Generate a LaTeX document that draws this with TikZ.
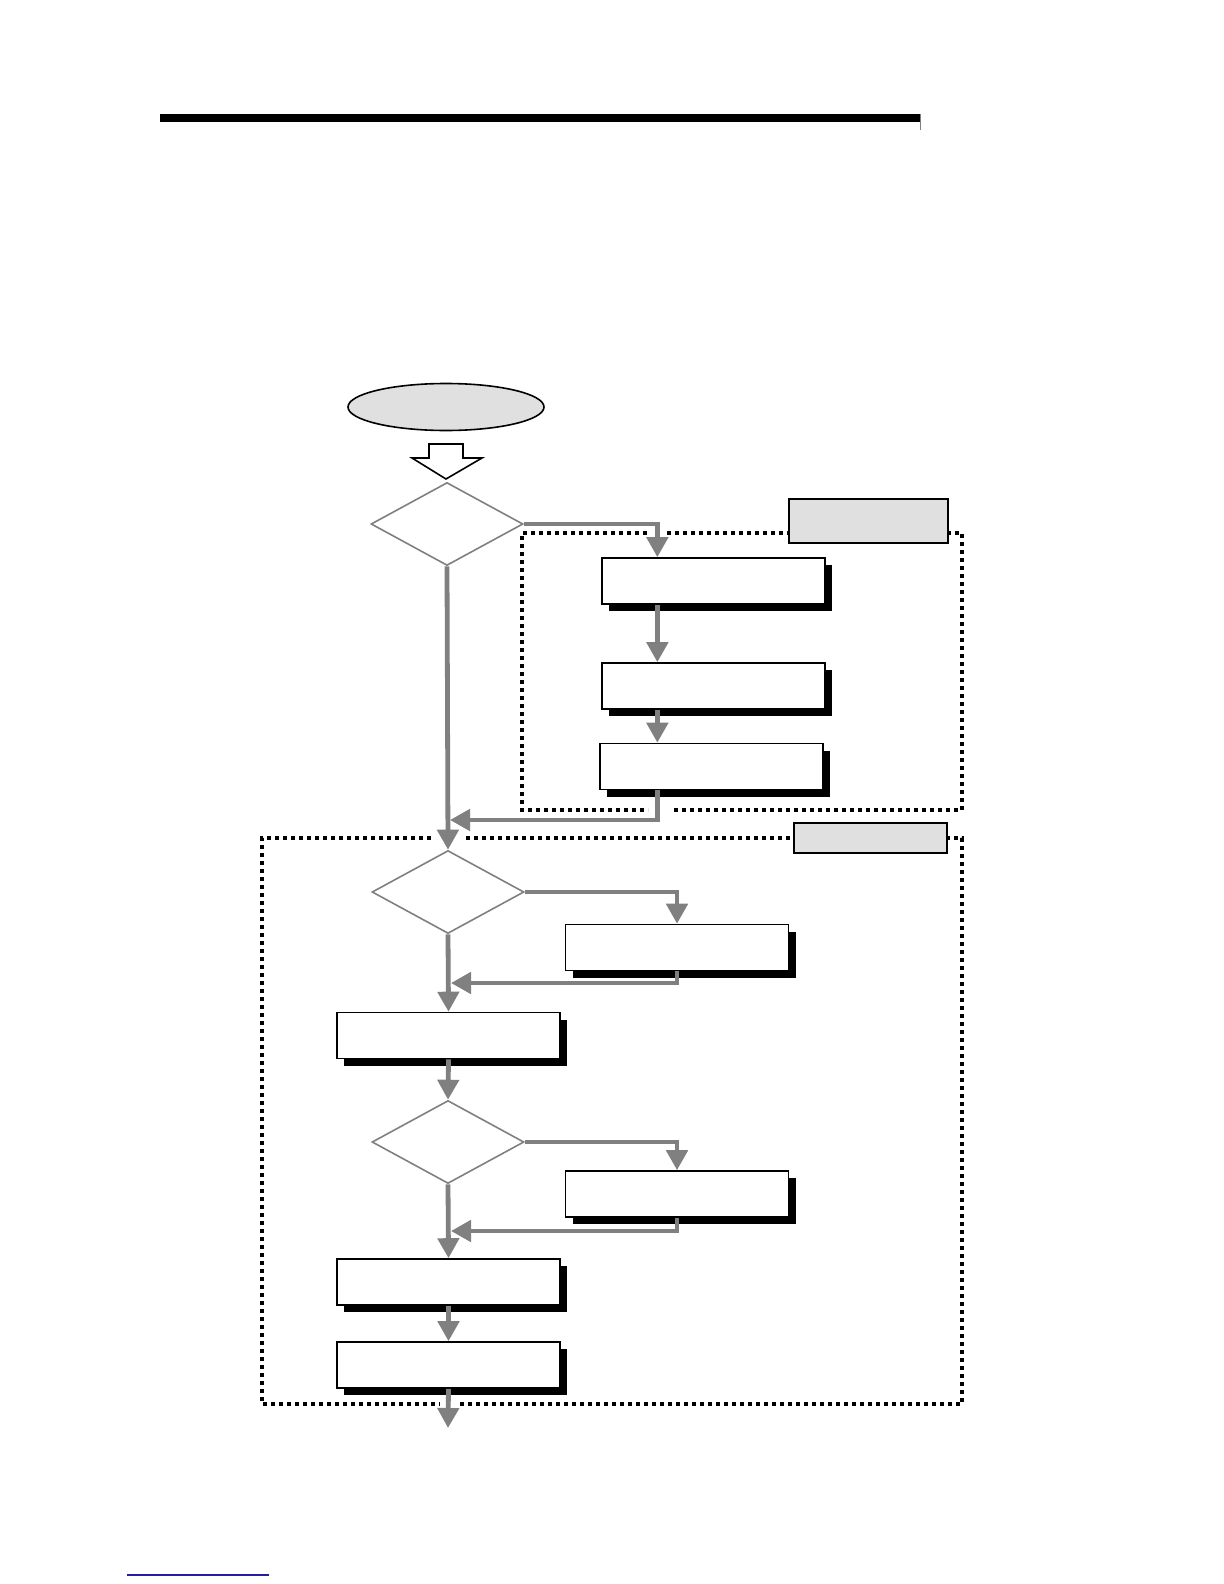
\documentclass[tikz,border=0pt]{standalone}
\usetikzlibrary{arrows.meta,positioning,calc,shapes.geometric,shadows}
\definecolor{flowgray}{HTML}{808080}
\definecolor{tagfill}{HTML}{E0E0E0}
\definecolor{rulebl}{HTML}{2020A0}

\begin{document}
\begin{tikzpicture}[x=0.5pt, y=-0.5pt,
  proc/.style={draw, line width=0.8pt, rectangle, minimum width=111.5pt,
    minimum height=23pt, inner sep=0pt, fill=white,
    drop shadow={shadow xshift=3.5pt, shadow yshift=-3.5pt, fill=black, opacity=1}},
  dec/.style={draw=flowgray, line width=0.8pt, diamond, minimum width=76pt,
    minimum height=41.5pt, inner sep=0pt, fill=white},
  start/.style={draw, line width=0.8pt, ellipse, minimum width=98pt,
    minimum height=23.5pt, inner sep=0pt, fill=tagfill},
  tag/.style={draw, line width=1pt, rectangle, inner sep=0pt, fill=tagfill},
  flow/.style={draw=flowgray, line width=2.4pt, -{Triangle[length=10pt,width=10.5pt]}},
  grp/.style={line width=2pt, dash pattern=on 2pt off 2pt},
]
\useasboundingbox[fill=white] (0,0) rectangle (1224,1584);
% page rules
\fill (160,114) rectangle (920,122);
\draw[flowgray, line width=0.4pt] (920,114) -- (920,130);
\draw[rulebl, line width=0.8pt] (127,1575) -- (269,1575);

% dotted groups
\draw[grp] (647,533) -| (522,810) -- (648,810);
\draw[grp] (667,533) -| (962,810) -- (671,810);
\draw[grp] (431,838) -| (262,1404) -- (440,1404);
\draw[grp] (466,838) -| (962,1404) -- (460,1404);
\node[tag, minimum width=79.5pt, minimum height=22pt] (t1) at (868.5,521) {};
\node[tag, minimum width=76.5pt, minimum height=15pt] (t2) at (870.5,838) {};

% start
\node[start] (s) at (446,407) {};
\draw[line width=0.8pt, fill=white] (429,444) -- (463,444) -- (463,458) -- (482,458)
  -- (446,479) -- (412,458) -- (429,458) -- cycle;

\node[dec] (d1) at (447,524) {};
\node[proc] (b1) at (713.5,581) {};
\node[proc] (b2) at (713.5,686) {};
\node[proc] (b3) at (711.5,766.5) {};
\coordinate (ca) at ($(b1.north west)!0.25!(b1.north east)$);
\coordinate (j1) at (450,820);

\node[dec] (d2) at (448,892) {};
\node[proc] (b4) at (677,947.5) {};
\coordinate (j2) at (451,983);
\node[proc] (b5) at (448.5,1035.5) {};
\node[dec] (d3) at (448,1142) {};
\node[proc] (b6) at (677,1194) {};
\coordinate (j3) at (451,1231);
\node[proc] (b7) at (448.5,1282) {};
\node[proc] (b8) at (448.5,1365) {};
\coordinate (e) at (448,1428);

\draw[flow] (d1.east) -| (ca);
\draw[flow] (b1.south -| ca) -- (b2.north -| ca);
\draw[flow] (b2.south -| ca) -- (b3.north -| ca);
\draw[flow] (b3.south -| ca) |- (j1);
\draw[flow] (d1.south) -- (d2.north);
\draw[flow] (d2.east) -| (b4.north);
\draw[flow] (b4.south) |- (j2);
\draw[flow] (d2.south) -- (b5.north);
\draw[flow] (b5.south) -- (d3.north);
\draw[flow] (d3.east) -| (b6.north);
\draw[flow] (b6.south) |- (j3);
\draw[flow] (d3.south) -- (b7.north);
\draw[flow] (b7.south) -- (b8.north);
\draw[flow] (b8.south) -- (e);
\end{tikzpicture}
\end{document}
